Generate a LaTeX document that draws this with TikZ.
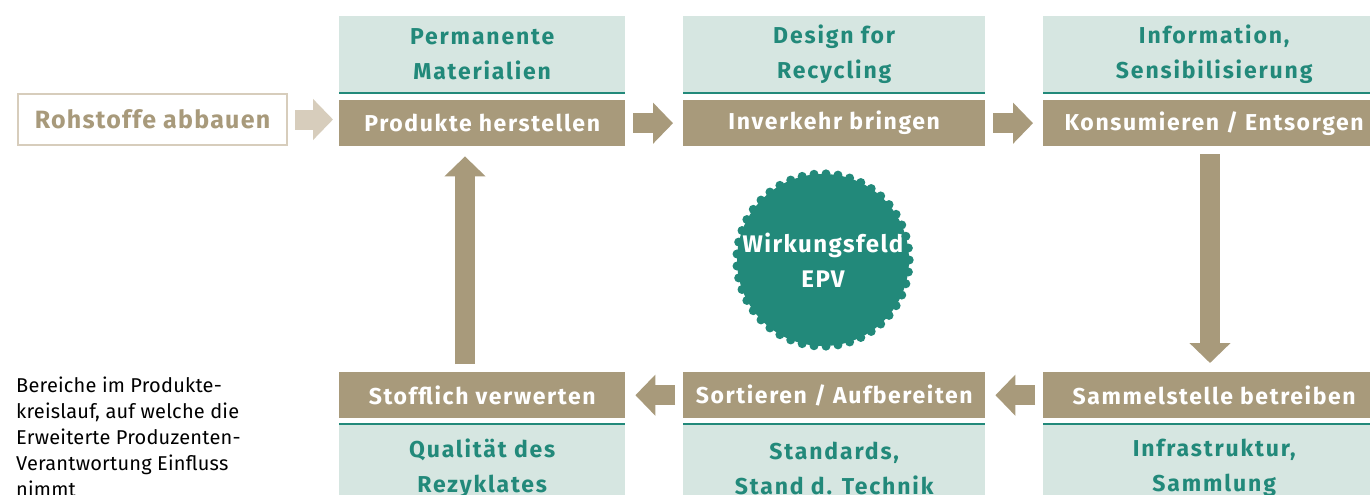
\documentclass[tikz,border=0pt]{standalone}
\usepackage{fontspec}
\setmainfont{Fira Sans}
\usetikzlibrary{arrows.meta,positioning,calc}
\definecolor{epvbrown}{HTML}{A89A7B}
\definecolor{epvpale}{HTML}{D7CDBC}
\definecolor{epvlight}{HTML}{D6E6E1}
\definecolor{epvteal}{HTML}{22897A}

\tikzset{
  stepbar/.style={anchor=north west, fill=epvbrown, text=white, inner sep=0pt,
    minimum height=46pt, font=\fontsize{23}{26}\selectfont\bfseries\addfontfeature{LetterSpace=7}},
  fieldbox/.style={anchor=north west, fill=epvlight, text=epvteal, inner sep=0pt,
    align=center, font=\fontsize{23}{35}\selectfont\bfseries\addfontfeature{LetterSpace=8}},
  blockarrow/.style={draw=epvbrown, line width=20pt,
    -{Triangle[length=20pt,width=40pt]}, shorten <=8pt, shorten >=10pt}
}

\begin{document}
\begin{tikzpicture}[x=1pt,y=-1pt]
  \clip (0,0) rectangle (1370,495);
  \fill[white] (0,0) rectangle (1370,495);

  % start of the chain
  \node[anchor=north west, draw=epvpale, line width=2pt, text=epvbrown, inner sep=0pt,
        minimum width=269pt, minimum height=51pt,
        font=\fontsize{25}{30}\selectfont\bfseries\addfontfeature{LetterSpace=5}] (roh) at (17,93) {Rohstoffe abbauen};

  % upper row
  \node[stepbar, minimum width=286pt] (prod) at (339,100) {Produkte herstellen};
  \node[stepbar, minimum width=302pt] (inv) at (683,100) {Inverkehr bringen};
  \node[stepbar, minimum width=342pt] (kons) at (1043,100) {Konsumieren / Entsorgen};

  \node[fieldbox, minimum width=286pt, minimum height=76pt] (perm) at (339,16) {Permanente\\Materialien};
  \node[fieldbox, minimum width=302pt, minimum height=76pt] (desi) at (683,16) {Design for\\Recycling};
  \node[fieldbox, minimum width=342pt, minimum height=76pt] (info) at (1043,16) {Information,\\Sensibilisierung};

  % lower row
  \node[stepbar, minimum width=286pt] (stoff) at (339,372) {Stofflich verwerten};
  \node[stepbar, minimum width=302pt] (sort) at (683,372) {Sortieren / Aufbereiten};
  \node[stepbar, minimum width=342pt] (samm) at (1043,372) {Sammelstelle betreiben};

  \node[fieldbox, minimum width=286pt, minimum height=90pt] (qual) at (339,423) {Qualität des\\Rezyklates};
  \node[fieldbox, minimum width=302pt, minimum height=90pt] (stand) at (683,423) {Standards,\\Stand d. Technik};
  \node[fieldbox, minimum width=342pt, minimum height=90pt] (infra) at (1043,423) {Infrastruktur,\\Sammlung};

  % teal rules between field and step
  \foreach \f in {perm,desi,info}
    \draw[epvteal, line width=2pt] ([yshift=-1pt]\f.south west) -- ([yshift=-1pt]\f.south east);
  \foreach \f in {qual,stand,infra}
    \draw[epvteal, line width=2pt] ([yshift=-1pt]\f.north west) -- ([yshift=-1pt]\f.north east);

  % arrows
  \draw[blockarrow, draw=epvpale, shorten <=7pt, shorten >=6pt] (roh.east) -- (roh.east -| prod.west);
  \draw[blockarrow] (prod.east) -- (inv.west);
  \draw[blockarrow] (inv.east) -- (kons.west);
  \coordinate (downx) at (1210,0);
  \coordinate (upx) at (465,0);
  \draw[blockarrow, shorten >=9pt] (kons.south -| downx) -- (samm.north -| downx);
  \draw[blockarrow] (samm.west) -- (sort.east);
  \draw[blockarrow] (sort.west) -- (stoff.east);
  \draw[blockarrow] (stoff.north -| upx) -- (prod.south -| upx);

  % centre seal
  \node[circle, fill=epvteal, text=white, minimum size=172pt, inner sep=0pt, align=center,
        font=\fontsize{24}{35}\selectfont\bfseries\addfontfeature{LetterSpace=6}] (wirk) at (823,260) {Wirkungsfeld\\EPV};
  \foreach \a in {0,8,...,352}
    \fill[epvteal] (wirk.\a) circle (4.5pt);

  % legend
  \node[anchor=north west, align=left, inner sep=0pt,
        font=\fontsize{20}{26}\selectfont\addfontfeature{LetterSpace=1}] (legend) at (16,377)
    {Bereiche im Produkte-\\kreislauf, auf welche die\\Erweiterte Produzenten-\\Verantwortung Einfluss\\nimmt};
\end{tikzpicture}
\end{document}
